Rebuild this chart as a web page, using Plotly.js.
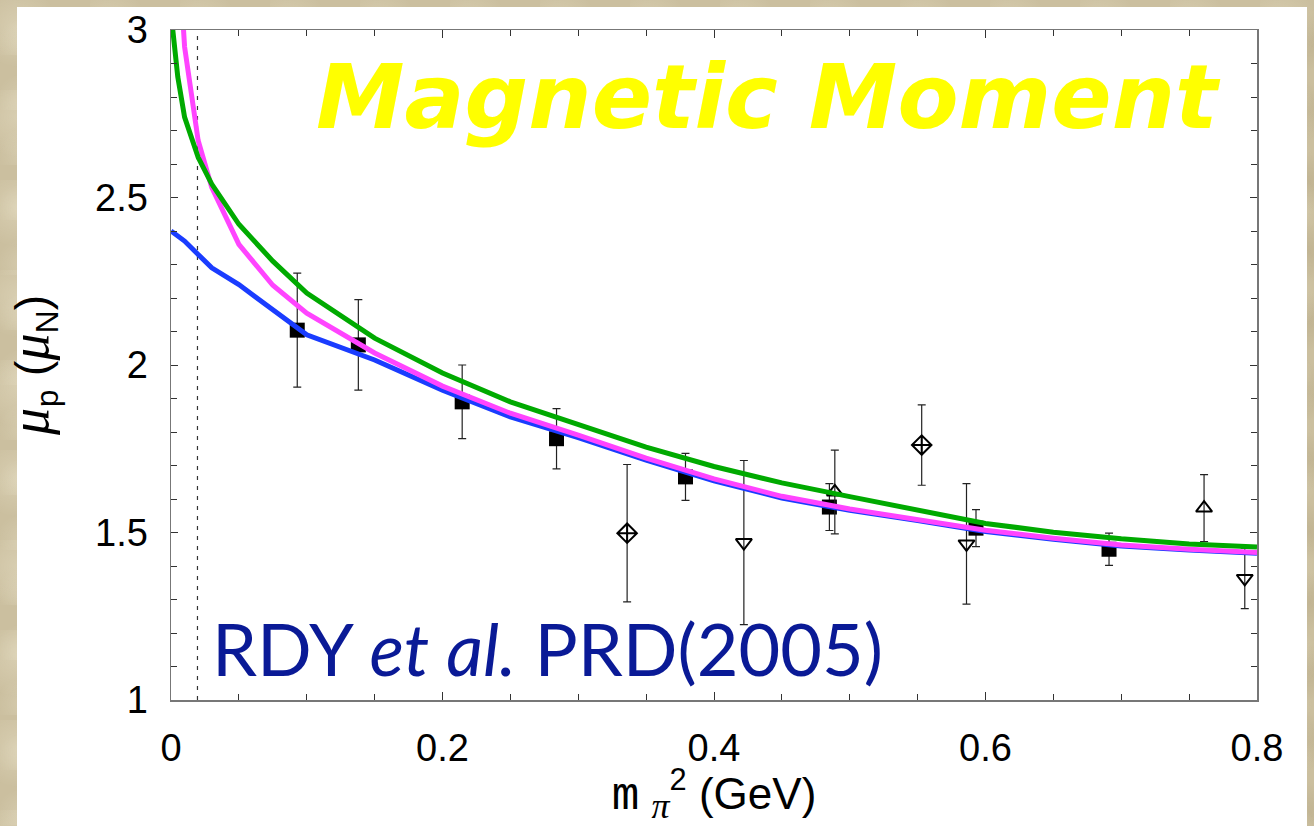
<!DOCTYPE html>
<html>
<head>
<meta charset="utf-8">
<script src="https://cdn.plot.ly/plotly-3.0.1.min.js"></script>
<style>
html,body{margin:0;padding:0;width:1314px;height:826px;overflow:hidden;}
body{
  background-color:#cbbf9f;
  background-image:
    radial-gradient(circle at 20% 30%, rgba(255,250,230,0.25) 0, rgba(255,250,230,0) 40px),
    radial-gradient(circle at 70% 60%, rgba(120,100,60,0.12) 0, rgba(120,100,60,0) 30px),
    radial-gradient(circle at 40% 80%, rgba(255,250,230,0.18) 0, rgba(255,250,230,0) 25px);
  background-size: 90px 90px, 70px 70px, 55px 55px;
}
#panel{position:absolute;left:17px;top:7px;width:1290px;height:830px;background:#ffffff;}
#chart{position:absolute;left:0;top:0;width:1314px;height:826px;}
</style>
</head>
<body>
<div id="panel"></div>
<div id="chart"></div>
<script>
// ---- data ----
const curveX = [0, 0.005, 0.01, 0.02, 0.03, 0.05, 0.075, 0.1, 0.15, 0.2, 0.25, 0.3, 0.35, 0.4, 0.45, 0.5, 0.55, 0.6, 0.65, 0.7, 0.75, 0.8];
const greenY = [3.05, 2.86, 2.74, 2.62, 2.54, 2.42, 2.31, 2.215, 2.08, 1.976, 1.89, 1.821, 1.755, 1.697, 1.648, 1.607, 1.567, 1.527, 1.501, 1.481, 1.466, 1.457];
const magentaY = [3.6, 3.25, 2.95, 2.67, 2.53, 2.36, 2.238, 2.155, 2.036, 1.937, 1.856, 1.791, 1.722, 1.66, 1.608, 1.57, 1.54, 1.507, 1.483, 1.463, 1.45, 1.44];
const blueY = [2.40, 2.385, 2.37, 2.33, 2.29, 2.24, 2.165, 2.09, 2.015, 1.925, 1.845, 1.783, 1.716, 1.654, 1.603, 1.566, 1.536, 1.503, 1.48, 1.46, 1.448, 1.438];

const squareX = [0.093, 0.138, 0.2145, 0.284, 0.379, 0.485, 0.593, 0.691];
const squareY = [2.104, 2.06, 1.89, 1.78, 1.666, 1.576, 1.513, 1.45];
const squareErr = [0.17, 0.135, 0.11, 0.09, 0.07, 0.07, 0.055, 0.048];

const diamondX = [0.336, 0.553];
const diamondY = [1.498, 1.761];
const diamondErr = [0.205, 0.12];

const triDownX = [0.422, 0.586, 0.791];
const triDownY = [1.47, 1.466, 1.363];
const triDownErr = [0.245, 0.18, 0.09];

const triUpX = [0.489, 0.761];
const triUpY = [1.621, 1.573];
const triUpErr = [0.125, 0.10];

const physicalPoint = 0.0195;

const xTicks = [0, 0.2, 0.4, 0.6, 0.8];
const xTickText = ['0', '0.2', '0.4', '0.6', '0.8'];
const yTicks = [1, 1.5, 2, 2.5, 3];
const yTickText = ['1', '1.5', '2', '2.5', '3'];

// ---- traces ----
const errStyle = (arr) => ({type:'data', array: arr, visible:true, color:'#222', thickness:1.2, width:4});

const traces = [
  {x:[physicalPoint, physicalPoint], y:[1, 3], mode:'lines', line:{color:'#333', width:1.2, dash:'4px,6px'}, hoverinfo:'skip', showlegend:false},
  {x:squareX, y:squareY, mode:'markers', marker:{symbol:'square', size:15, color:'#000'}, error_y:errStyle(squareErr), showlegend:false},
  {x:diamondX, y:diamondY, mode:'markers', marker:{symbol:'diamond-cross-open', size:15, color:'#000', line:{width:2, color:'#000'}}, error_y:errStyle(diamondErr), showlegend:false},
  {x:triDownX, y:triDownY, mode:'markers', marker:{symbol:'triangle-down-open', size:14, color:'#000', line:{width:2, color:'#000'}}, error_y:errStyle(triDownErr), showlegend:false},
  {x:triUpX, y:triUpY, mode:'markers', marker:{symbol:'triangle-up-open', size:14, color:'#000', line:{width:2, color:'#000'}}, error_y:errStyle(triUpErr), showlegend:false},
  {x:curveX, y:blueY, mode:'lines', line:{color:'#1a3cff', width:5}, showlegend:false},
  {x:curveX, y:magentaY, mode:'lines', line:{color:'#ff44ff', width:5}, showlegend:false},
  {x:curveX, y:greenY, mode:'lines', line:{color:'#00aa00', width:5}, showlegend:false}
];

const layout = {
  width:1314, height:826,
  margin:{l:171, r:57, t:30, b:126},
  paper_bgcolor:'rgba(0,0,0,0)',
  plot_bgcolor:'#ffffff',
  showlegend:false,
  font:{family:'Liberation Sans, Arial, sans-serif', color:'#000', size:34},
  xaxis:{
    range:[0, 0.8], tickvals:xTicks, ticktext:xTickText,
    ticks:'inside', ticklen:8, tickwidth:1, tickcolor:'#333',
    minor:{dtick:0.05, ticks:'inside', ticklen:6, tickcolor:'#333', tickwidth:1},
    showline:true, linecolor:'#777', linewidth:1.5, mirror:'allticks',
    showgrid:false, zeroline:false,
    tickfont:{size:38, family:'Liberation Sans, Arial, sans-serif'},
    ticklabelstandoff:14,
    title:{text:'<span style="font-family:Liberation Mono;font-size:46px">m</span> <sub><i><span style="font-family:Liberation Serif;font-size:36px">π</span></i></sub><sup>2</sup> (GeV)', font:{size:44, family:'Liberation Sans, Arial, sans-serif'}, standoff:2}
  },
  yaxis:{
    range:[1, 3], tickvals:yTicks, ticktext:yTickText,
    ticks:'inside', ticklen:7, tickwidth:1, tickcolor:'#333',
    minor:{dtick:0.1, ticks:'inside', ticklen:6, tickcolor:'#333', tickwidth:1},
    showline:true, linecolor:'#777', linewidth:1.5, mirror:'allticks',
    showgrid:false, zeroline:false,
    tickfont:{size:38, family:'Liberation Sans, Arial, sans-serif'},
    ticklabelstandoff:14,
    title:{text:'<i><span style="font-family:Liberation Serif;font-size:54px">μ</span></i><sub><span style="font-family:Liberation Mono">p</span></sub> (<i><span style="font-family:Liberation Serif;font-size:54px">μ</span></i><sub>N</sub>)', font:{size:46, family:'Liberation Sans, Arial, sans-serif'}, standoff:34}
  },
  annotations:[
    {xref:'x', yref:'y', x:0.44, y:2.80, text:'<b><i>Magnetic Moment</i></b>', showarrow:false, xanchor:'center', yanchor:'middle',
     font:{family:'DejaVu Sans, Verdana, sans-serif', size:89, color:'#ffff00'}},
    {xref:'x', yref:'y', x:0.0287, y:1.155, text:'RDY <i>et al.</i> PRD(2005)', showarrow:false, xanchor:'left', yanchor:'middle',
     font:{family:'Lato, Open Sans, sans-serif', size:72, color:'#0a1a96'}}
  ]
};

Plotly.newPlot('chart', traces, layout, {displayModeBar:false, staticPlot:true});
</script>
</body>
</html>
